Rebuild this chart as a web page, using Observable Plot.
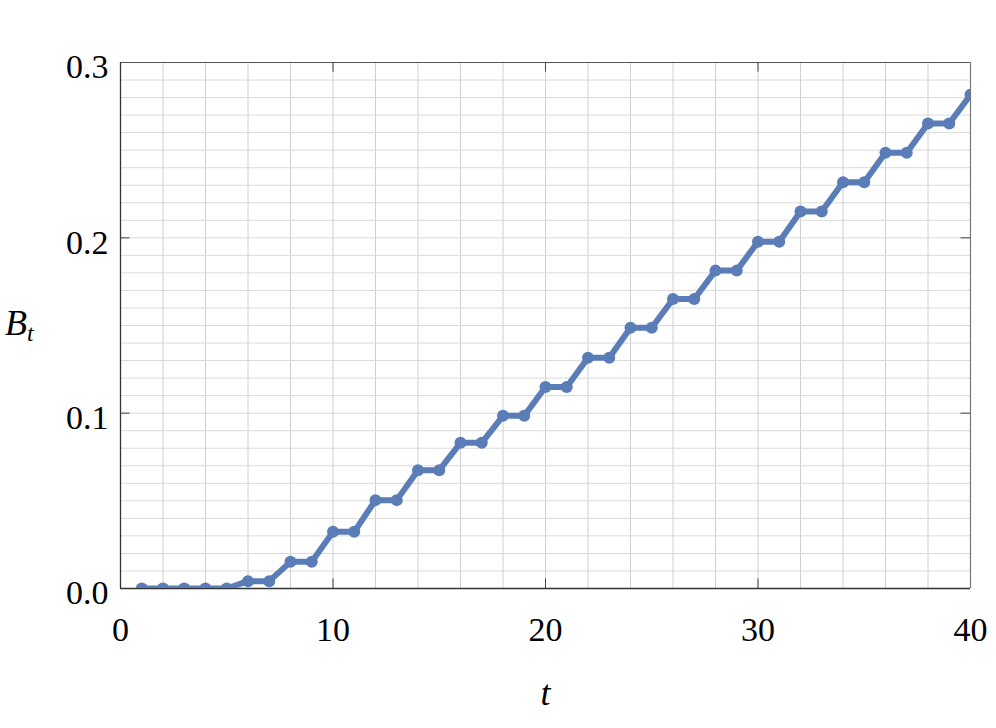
<!DOCTYPE html>
<html>
<head>
<meta charset="utf-8">
<script src="https://cdn.jsdelivr.net/npm/d3@7"></script>
<script src="https://cdn.jsdelivr.net/npm/@observablehq/plot@0.6"></script>
<style>
  html, body { margin: 0; padding: 0; background: #fff; }
  svg { display: block; }
</style>
</head>
<body>
<div id="chart"></div>
<script>
// Data
const tValues = d3.range(1, 41);
const bValues = [
  0.0, 0.0, 0.0, 0.0, 0.0,
  0.0042, 0.0042, 0.0152, 0.0152, 0.0323,
  0.0323, 0.0504, 0.0504, 0.0675, 0.0675,
  0.0831, 0.0831, 0.0985, 0.0985, 0.1149,
  0.1149, 0.1316, 0.1316, 0.1487, 0.1487,
  0.1651, 0.1651, 0.1813, 0.1813, 0.1978,
  0.1978, 0.2150, 0.2150, 0.2317, 0.2317,
  0.2485, 0.2485, 0.2652, 0.2652, 0.2816
];
const xTicks = [0, 10, 20, 30, 40];
const yTicks = [0.0, 0.1, 0.2, 0.3];
const xGrid = d3.range(0, 41, 2);
const yGrid = d3.range(0, 31).map(i => i / 100);

const data = tValues.map((t, i) => ({t, b: bValues[i]}));
const lineColor = "#5a7db8";
const font = "'Liberation Serif', 'Times New Roman', serif";

const chart = Plot.plot({
  width: 996,
  height: 728,
  marginLeft: 120,
  marginRight: 26,
  marginTop: 62,
  marginBottom: 140,
  style: {fontFamily: font, fontSize: "34px", color: "#000", background: "#fff"},
  x: {domain: [0, 40]},
  y: {domain: [0, 0.3]},
  marks: [
    Plot.gridX(xGrid, {stroke: "#d0d0d0", strokeOpacity: 1}),
    Plot.gridY(yGrid, {stroke: "#dadada", strokeOpacity: 1}),
    // frame
    Plot.ruleX([40], {stroke: "#777", strokeWidth: 1.2}),
    Plot.ruleY([0.3], {stroke: "#555", strokeWidth: 1.2}),
    Plot.ruleX([0], {stroke: "#333", strokeWidth: 1.3}),
    Plot.ruleY([0], {stroke: "#333", strokeWidth: 1.3}),
    // inward ticks
    Plot.ruleY(yTicks.slice(1, 3), {x1: 0, x2: 0.45, stroke: "#444"}),
    Plot.ruleY(yTicks.slice(1, 3), {x1: 40, x2: 39.55, stroke: "#444"}),
    Plot.ruleX(xTicks.slice(1, 4), {y1: 0, y2: 0.0055, stroke: "#444"}),
    Plot.ruleX(xTicks.slice(1, 4), {y1: 0.3, y2: 0.2945, stroke: "#444"}),
    // series
    Plot.line(data, {x: "t", y: "b", stroke: lineColor, strokeWidth: 6, strokeLinejoin: "round", clip: true}),
    Plot.dot(data, {x: "t", y: "b", fill: lineColor, r: 6, clip: true}),
    // axes
    Plot.axisX(xTicks, {tickSize: 0, tickPadding: 28, fontSize: 34, label: null, tickFormat: d => String(d)}),
    Plot.axisY(yTicks, {tickSize: 0, tickPadding: 12, fontSize: 34, label: null, tickFormat: d3.format(".1f"), dy: 5}),
    Plot.text(["t"], {frameAnchor: "bottom", dy: 116, fontSize: 36, fontStyle: "italic", fill: "#000"})
  ]
});

const svg = d3.select(chart);
const lbl = svg.append("text")
  .attr("x", 5)
  .attr("y", 335)
  .attr("text-anchor", "start")
  .attr("font-family", font)
  .attr("font-size", 36)
  .attr("font-style", "italic")
  .attr("fill", "#000");
lbl.append("tspan").text("B");
lbl.append("tspan").attr("font-size", 24).attr("dy", 6).text("t");

document.getElementById("chart").appendChild(chart);
</script>
</body>
</html>
